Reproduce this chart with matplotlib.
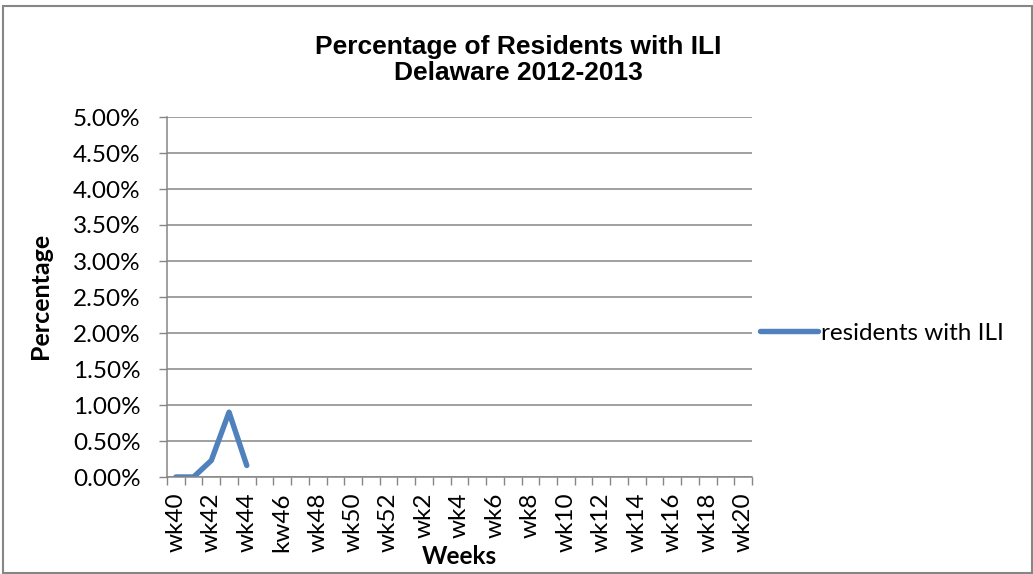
"""Percentual de residentes com ILI - Delaware 2012-2013 (recriacao)."""

import numpy as np
import matplotlib

matplotlib.use("Agg")
import matplotlib.pyplot as plt  # noqa: E402
from matplotlib.patches import Rectangle  # noqa: E402
from matplotlib.ticker import FixedLocator, FuncFormatter  # noqa: E402

# semanas: wk40..wk52 e wk1..wk20 (o rotulo "kw46" vem assim do original)
weeks = ([f"wk{w}" for w in range(40, 53)] + [f"wk{w}" for w in range(1, 21)])
weeks[6] = "kw46"
ili_pct = [0.0, 0.0, 0.0023, 0.0090, 0.0016] + [np.nan] * (len(weeks) - 5)
y_ticks = [i * 0.005 for i in range(11)]

COL_LINE = "#4F81BD"
COL_GRID = "#868686"
TICK_FONT = ["Lato", "DejaVu Sans"]
TITLE_FONT = ["Liberation Sans", "DejaVu Sans"]
FS = 17.5

W, H = 1033, 574
fig = plt.figure(figsize=(W / 100, H / 100), dpi=100)
ax = fig.add_axes([167 / W, 1 - 477 / H, 585 / W, 360 / H])

x = np.arange(len(weeks))
line, = ax.plot(x, ili_pct, color=COL_LINE, lw=3.9, solid_capstyle="round",
                solid_joinstyle="round", label="residents with ILI")

ax.set_xlim(-0.5, len(weeks) - 0.5)
ax.set_ylim(0, 0.05)

# ticks de categoria: marcas nas bordas, rotulos no centro (estilo Excel)
ax.xaxis.set_major_locator(FixedLocator(np.arange(-0.5, len(weeks), 1.0)))
ax.xaxis.set_major_formatter(FuncFormatter(lambda v, p: ""))
ax.xaxis.set_minor_locator(FixedLocator(x[::2]))
ax.set_xticklabels([weeks[i] for i in x[::2]], minor=True)
ax.tick_params(axis="x", which="major", length=6, color=COL_GRID, width=1)
ax.tick_params(axis="x", which="minor", length=0, pad=11, labelrotation=90,
               labelsize=FS)

ax.set_yticks(y_ticks)
ax.yaxis.set_major_formatter(FuncFormatter(lambda v, p: f"{v * 100:.2f}%"))
ax.tick_params(axis="y", length=6, color=COL_GRID, width=1, labelsize=FS,
               pad=13)
for lab in ax.get_xticklabels(minor=True) + ax.get_yticklabels():
    lab.set_family(TICK_FONT)

ax.grid(axis="y", color=COL_GRID, lw=1.1)
ax.set_axisbelow(True)
for side in ("top", "right"):
    ax.spines[side].set_visible(False)
for side in ("left", "bottom"):
    ax.spines[side].set_color(COL_GRID)
    ax.spines[side].set_linewidth(1.1)

fig.text(518 / W, 1 - 60 / H,
         "Percentage of Residents with ILI\nDelaware 2012-2013",
         ha="center", va="center", fontsize=19, fontweight="bold",
         family=TITLE_FONT, linespacing=1.1)
fig.text(40 / W, 1 - 296 / H, "Percentage", rotation=90, ha="center",
         va="center", fontsize=18, fontweight="bold", family=TICK_FONT)
fig.text(459 / W, 1 - 556 / H, "Weeks", ha="center", va="center",
         fontsize=17.5, fontweight="bold", family=TICK_FONT)

fig.legend(handles=[line], loc="center left",
           bbox_to_anchor=(760 / W, 1 - 333 / H), frameon=False,
           borderpad=0, borderaxespad=0, handlelength=2.4,
           handletextpad=0.1, prop={"family": TICK_FONT, "size": FS})

# borda externa do grafico
fig.patches.append(Rectangle((3 / W, 1 / H), 1029 / W, 567 / H,
                             transform=fig.transFigure, fill=False,
                             edgecolor=COL_GRID, lw=1.5))

fig.savefig("out.png", dpi=100)
